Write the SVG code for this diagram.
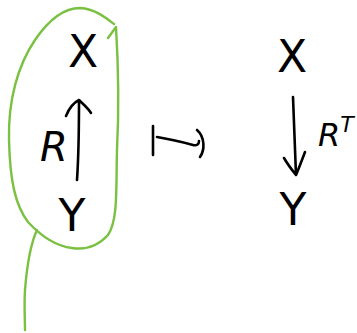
<svg xmlns="http://www.w3.org/2000/svg" width="357" height="333" viewBox="0 0 357 333">
<style>
.ink{fill:none;stroke:#000;stroke-width:2.6;stroke-linecap:round;stroke-linejoin:round}
.green{fill:none;stroke:#7ac142;stroke-width:2.4;stroke-linecap:round;stroke-linejoin:round}
.lbl{font-family:"DejaVu Sans",sans-serif;font-weight:normal;fill:#000}
</style>
<rect width="357" height="333" fill="#fff"/>
<g id="blob">
<path class="green" d="M108,38 L116,27 C118,60 119,110 117,150 C116,190 118,220 108,235 C98,246 85,250 72,248 C55,246 40,235 28,222 C15,205 10,180 9,140 C8,100 18,65 35,40 C50,18 65,8 80,8 C95,9 105,17 114,24"/>
<path class="green" d="M37,230 C30,245 27,265 25,290 C24,305 25,318 25,330"/>
</g>
<g id="X1"><text class="lbl" x="83" y="67" font-size="44" text-anchor="middle">X</text></g>
<g id="Y1"><text class="lbl" x="72" y="231" font-size="44" text-anchor="middle">Y</text></g>
<g id="R1"><text class="lbl" x="54" y="161" font-size="40" text-anchor="middle" font-style="italic">R</text></g>
<g id="X2"><text class="lbl" x="292" y="72" font-size="44" text-anchor="middle">X</text></g>
<g id="Y2"><text class="lbl" x="293" y="225" font-size="44" text-anchor="middle">Y</text></g>
<g id="RT"><text class="lbl" x="318" y="146" font-size="32" font-style="italic">R<tspan font-size="22" dy="-14">T</tspan></text></g>
<g id="connectors">
<path class="ink" d="M77,180 C79,150 79,120 79,100 M66,116 C70,106 75,102 79,100 C83,104 88,108 91,113"/>
<path class="ink" d="M293,97 C294,125 295,150 296,175 M284,158 C288,165 292,170 296,175 C299,168 302,160 305,152"/>
<path class="ink" d="M153,126 L153,155 M157,137 C170,139 182,142 193,145 C197,146 199,144 199,141 M197,130 C205,137 205,150 200,157"/>
</g>
</svg>
